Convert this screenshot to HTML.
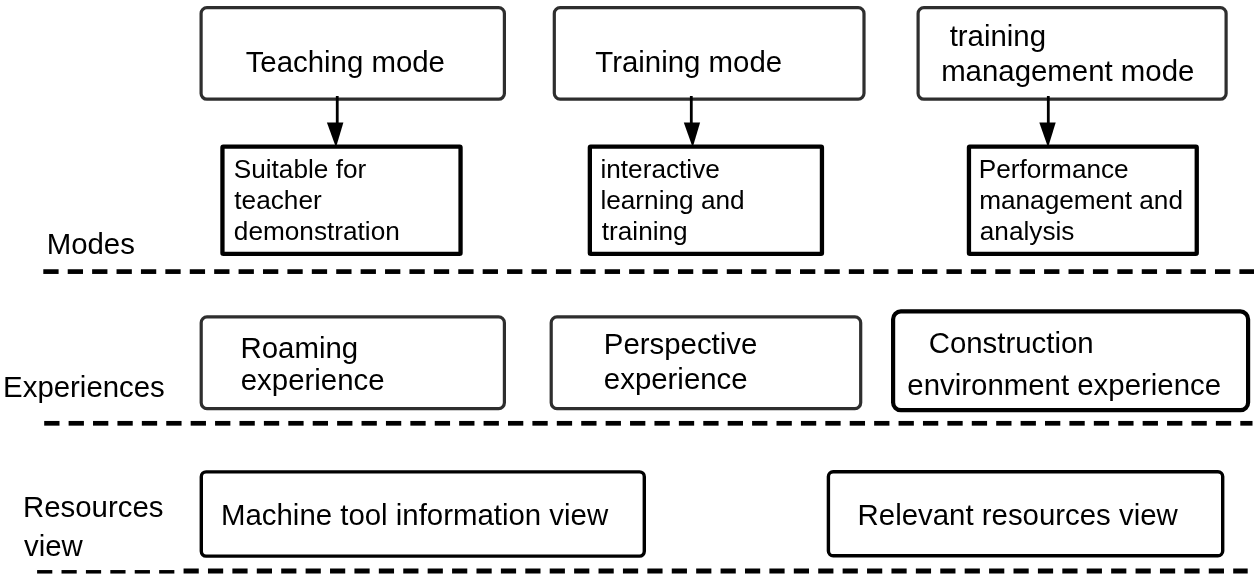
<!DOCTYPE html>
<html><head><meta charset="utf-8"><style>
html,body{margin:0;padding:0;background:#fff;}
svg{display:block;will-change:transform;}
text{font-family:"Liberation Sans",sans-serif;fill:#000;}
</style></head><body>
<svg width="1260" height="582" viewBox="0 0 1260 582">
<rect width="1260" height="582" fill="#fff"/>
<rect x="201.10" y="7.70" width="303.30" height="91.50" rx="5.8" ry="5.8" fill="none" stroke="#2e2e2e" stroke-width="3.2"/>
<rect x="554.30" y="7.70" width="309.70" height="91.40" rx="5.8" ry="5.8" fill="none" stroke="#2e2e2e" stroke-width="3.2"/>
<rect x="918.10" y="7.70" width="308.00" height="91.50" rx="5.8" ry="5.8" fill="none" stroke="#2e2e2e" stroke-width="3.2"/>
<rect x="201.20" y="316.90" width="303.20" height="91.70" rx="5.8" ry="5.8" fill="none" stroke="#2e2e2e" stroke-width="3.2"/>
<rect x="551.20" y="316.90" width="309.50" height="91.70" rx="5.8" ry="5.8" fill="none" stroke="#2e2e2e" stroke-width="3.2"/>
<rect x="893.10" y="311.40" width="355.00" height="98.80" rx="7.8" ry="7.8" fill="none" stroke="#000" stroke-width="4.2"/>
<rect x="201.30" y="471.90" width="443.00" height="84.20" rx="4.8" ry="4.8" fill="none" stroke="#000" stroke-width="3.4"/>
<rect x="828.40" y="471.70" width="394.30" height="84.10" rx="4.8" ry="4.8" fill="none" stroke="#000" stroke-width="3.4"/>
<rect x="222.45" y="146.65" width="238.10" height="107.30" rx="0.8" ry="0.8" fill="none" stroke="#000" stroke-width="4.3"/>
<rect x="589.85" y="146.65" width="232.10" height="107.30" rx="0.8" ry="0.8" fill="none" stroke="#000" stroke-width="4.3"/>
<rect x="968.95" y="146.65" width="227.80" height="107.30" rx="0.8" ry="0.8" fill="none" stroke="#000" stroke-width="4.3"/>
<line x1="337.25" y1="96" x2="337.25" y2="130" stroke="#000" stroke-width="2.8"/>
<polygon points="326.9,122.4 343.4,122.4 336.7,145 335.09999999999997,145" fill="#000"/>
<line x1="691.3" y1="96" x2="691.3" y2="130" stroke="#000" stroke-width="2.8"/>
<polygon points="683.8,122.4 700.1,122.4 693.4,145 691.8000000000001,145" fill="#000"/>
<line x1="1048.3" y1="96" x2="1048.3" y2="130" stroke="#000" stroke-width="2.8"/>
<polygon points="1039.3,122.4 1055.7,122.4 1048.8,145 1047.2,145" fill="#000"/>
<rect x="43.30" y="269.25" width="15.30" height="4.7" fill="#000"/>
<rect x="67.71" y="269.25" width="15.30" height="4.7" fill="#000"/>
<rect x="92.12" y="269.25" width="15.30" height="4.7" fill="#000"/>
<rect x="116.53" y="269.25" width="15.30" height="4.7" fill="#000"/>
<rect x="140.94" y="269.25" width="15.30" height="4.7" fill="#000"/>
<rect x="165.35" y="269.25" width="15.30" height="4.7" fill="#000"/>
<rect x="189.76" y="269.25" width="15.30" height="4.7" fill="#000"/>
<rect x="214.17" y="269.25" width="15.30" height="4.7" fill="#000"/>
<rect x="238.58" y="269.25" width="15.30" height="4.7" fill="#000"/>
<rect x="262.99" y="269.25" width="15.30" height="4.7" fill="#000"/>
<rect x="287.40" y="269.25" width="15.30" height="4.7" fill="#000"/>
<rect x="311.81" y="269.25" width="15.30" height="4.7" fill="#000"/>
<rect x="336.22" y="269.25" width="15.30" height="4.7" fill="#000"/>
<rect x="360.63" y="269.25" width="15.30" height="4.7" fill="#000"/>
<rect x="385.04" y="269.25" width="15.30" height="4.7" fill="#000"/>
<rect x="409.45" y="269.25" width="15.30" height="4.7" fill="#000"/>
<rect x="433.86" y="269.25" width="15.30" height="4.7" fill="#000"/>
<rect x="458.27" y="269.25" width="15.30" height="4.7" fill="#000"/>
<rect x="482.68" y="269.25" width="15.30" height="4.7" fill="#000"/>
<rect x="507.09" y="269.25" width="15.30" height="4.7" fill="#000"/>
<rect x="531.50" y="269.25" width="15.30" height="4.7" fill="#000"/>
<rect x="555.91" y="269.25" width="15.30" height="4.7" fill="#000"/>
<rect x="580.32" y="269.25" width="15.30" height="4.7" fill="#000"/>
<rect x="604.73" y="269.25" width="15.30" height="4.7" fill="#000"/>
<rect x="629.14" y="269.25" width="15.30" height="4.7" fill="#000"/>
<rect x="653.55" y="269.25" width="15.30" height="4.7" fill="#000"/>
<rect x="677.96" y="269.25" width="15.30" height="4.7" fill="#000"/>
<rect x="702.37" y="269.25" width="15.30" height="4.7" fill="#000"/>
<rect x="726.78" y="269.25" width="15.30" height="4.7" fill="#000"/>
<rect x="751.19" y="269.25" width="15.30" height="4.7" fill="#000"/>
<rect x="775.60" y="269.25" width="15.30" height="4.7" fill="#000"/>
<rect x="800.01" y="269.25" width="15.30" height="4.7" fill="#000"/>
<rect x="824.42" y="269.25" width="15.30" height="4.7" fill="#000"/>
<rect x="848.83" y="269.25" width="15.30" height="4.7" fill="#000"/>
<rect x="873.24" y="269.25" width="15.30" height="4.7" fill="#000"/>
<rect x="897.65" y="269.25" width="15.30" height="4.7" fill="#000"/>
<rect x="922.06" y="269.25" width="15.30" height="4.7" fill="#000"/>
<rect x="946.47" y="269.25" width="15.30" height="4.7" fill="#000"/>
<rect x="970.88" y="269.25" width="15.30" height="4.7" fill="#000"/>
<rect x="995.29" y="269.25" width="15.30" height="4.7" fill="#000"/>
<rect x="1019.70" y="269.25" width="15.30" height="4.7" fill="#000"/>
<rect x="1044.11" y="269.25" width="15.30" height="4.7" fill="#000"/>
<rect x="1068.52" y="269.25" width="15.30" height="4.7" fill="#000"/>
<rect x="1092.93" y="269.25" width="15.30" height="4.7" fill="#000"/>
<rect x="1117.34" y="269.25" width="15.30" height="4.7" fill="#000"/>
<rect x="1141.75" y="269.25" width="15.30" height="4.7" fill="#000"/>
<rect x="1166.16" y="269.25" width="15.30" height="4.7" fill="#000"/>
<rect x="1190.57" y="269.25" width="15.30" height="4.7" fill="#000"/>
<rect x="1214.98" y="269.25" width="15.30" height="4.7" fill="#000"/>
<rect x="1239.39" y="269.25" width="14.61" height="4.7" fill="#000"/>
<rect x="44.20" y="420.95" width="15.30" height="4.7" fill="#000"/>
<rect x="68.61" y="420.95" width="15.30" height="4.7" fill="#000"/>
<rect x="93.02" y="420.95" width="15.30" height="4.7" fill="#000"/>
<rect x="117.43" y="420.95" width="15.30" height="4.7" fill="#000"/>
<rect x="141.84" y="420.95" width="15.30" height="4.7" fill="#000"/>
<rect x="166.25" y="420.95" width="15.30" height="4.7" fill="#000"/>
<rect x="190.66" y="420.95" width="15.30" height="4.7" fill="#000"/>
<rect x="215.07" y="420.95" width="15.30" height="4.7" fill="#000"/>
<rect x="239.48" y="420.95" width="15.30" height="4.7" fill="#000"/>
<rect x="263.89" y="420.95" width="15.30" height="4.7" fill="#000"/>
<rect x="288.30" y="420.95" width="15.30" height="4.7" fill="#000"/>
<rect x="312.71" y="420.95" width="15.30" height="4.7" fill="#000"/>
<rect x="337.12" y="420.95" width="15.30" height="4.7" fill="#000"/>
<rect x="361.53" y="420.95" width="15.30" height="4.7" fill="#000"/>
<rect x="385.94" y="420.95" width="15.30" height="4.7" fill="#000"/>
<rect x="410.35" y="420.95" width="15.30" height="4.7" fill="#000"/>
<rect x="434.76" y="420.95" width="15.30" height="4.7" fill="#000"/>
<rect x="459.17" y="420.95" width="15.30" height="4.7" fill="#000"/>
<rect x="483.58" y="420.95" width="15.30" height="4.7" fill="#000"/>
<rect x="507.99" y="420.95" width="15.30" height="4.7" fill="#000"/>
<rect x="532.40" y="420.95" width="15.30" height="4.7" fill="#000"/>
<rect x="556.81" y="420.95" width="15.30" height="4.7" fill="#000"/>
<rect x="581.22" y="420.95" width="15.30" height="4.7" fill="#000"/>
<rect x="605.63" y="420.95" width="15.30" height="4.7" fill="#000"/>
<rect x="630.04" y="420.95" width="15.30" height="4.7" fill="#000"/>
<rect x="654.45" y="420.95" width="15.30" height="4.7" fill="#000"/>
<rect x="678.86" y="420.95" width="15.30" height="4.7" fill="#000"/>
<rect x="703.27" y="420.95" width="15.30" height="4.7" fill="#000"/>
<rect x="727.68" y="420.95" width="15.30" height="4.7" fill="#000"/>
<rect x="752.09" y="420.95" width="15.30" height="4.7" fill="#000"/>
<rect x="776.50" y="420.95" width="15.30" height="4.7" fill="#000"/>
<rect x="800.91" y="420.95" width="15.30" height="4.7" fill="#000"/>
<rect x="825.32" y="420.95" width="15.30" height="4.7" fill="#000"/>
<rect x="849.73" y="420.95" width="15.30" height="4.7" fill="#000"/>
<rect x="874.14" y="420.95" width="15.30" height="4.7" fill="#000"/>
<rect x="898.55" y="420.95" width="15.30" height="4.7" fill="#000"/>
<rect x="922.96" y="420.95" width="15.30" height="4.7" fill="#000"/>
<rect x="947.37" y="420.95" width="15.30" height="4.7" fill="#000"/>
<rect x="971.78" y="420.95" width="15.30" height="4.7" fill="#000"/>
<rect x="996.19" y="420.95" width="15.30" height="4.7" fill="#000"/>
<rect x="1020.60" y="420.95" width="15.30" height="4.7" fill="#000"/>
<rect x="1045.01" y="420.95" width="15.30" height="4.7" fill="#000"/>
<rect x="1069.42" y="420.95" width="15.30" height="4.7" fill="#000"/>
<rect x="1093.83" y="420.95" width="15.30" height="4.7" fill="#000"/>
<rect x="1118.24" y="420.95" width="15.30" height="4.7" fill="#000"/>
<rect x="1142.65" y="420.95" width="15.30" height="4.7" fill="#000"/>
<rect x="1167.06" y="420.95" width="15.30" height="4.7" fill="#000"/>
<rect x="1191.47" y="420.95" width="15.30" height="4.7" fill="#000"/>
<rect x="1215.88" y="420.95" width="15.30" height="4.7" fill="#000"/>
<rect x="1240.29" y="420.95" width="12.21" height="4.7" fill="#000"/>
<rect x="37.10" y="570.05" width="15.20" height="3.5" fill="#000"/>
<rect x="61.51" y="570.05" width="15.20" height="3.5" fill="#000"/>
<rect x="85.92" y="570.05" width="15.20" height="3.5" fill="#000"/>
<rect x="110.33" y="570.05" width="15.20" height="3.5" fill="#000"/>
<rect x="134.74" y="570.05" width="15.20" height="3.5" fill="#000"/>
<rect x="159.15" y="570.05" width="15.20" height="3.5" fill="#000"/>
<rect x="183.56" y="568.50" width="15.20" height="5.0" fill="#000"/>
<rect x="207.97" y="568.50" width="15.20" height="5.0" fill="#000"/>
<rect x="232.38" y="568.50" width="15.20" height="5.0" fill="#000"/>
<rect x="256.79" y="568.50" width="15.20" height="5.0" fill="#000"/>
<rect x="281.20" y="568.50" width="15.20" height="5.0" fill="#000"/>
<rect x="305.61" y="568.50" width="15.20" height="5.0" fill="#000"/>
<rect x="330.02" y="568.50" width="15.20" height="5.0" fill="#000"/>
<rect x="354.43" y="568.50" width="15.20" height="5.0" fill="#000"/>
<rect x="378.84" y="568.50" width="15.20" height="5.0" fill="#000"/>
<rect x="403.25" y="568.50" width="15.20" height="5.0" fill="#000"/>
<rect x="427.66" y="568.50" width="15.20" height="5.0" fill="#000"/>
<rect x="452.07" y="568.50" width="15.20" height="5.0" fill="#000"/>
<rect x="476.48" y="568.50" width="15.20" height="5.0" fill="#000"/>
<rect x="500.89" y="568.50" width="15.20" height="5.0" fill="#000"/>
<rect x="525.30" y="568.50" width="15.20" height="5.0" fill="#000"/>
<rect x="549.71" y="568.50" width="15.20" height="5.0" fill="#000"/>
<rect x="574.12" y="568.50" width="15.20" height="5.0" fill="#000"/>
<rect x="598.53" y="568.50" width="15.20" height="5.0" fill="#000"/>
<rect x="622.94" y="568.50" width="15.20" height="5.0" fill="#000"/>
<rect x="647.35" y="568.50" width="15.20" height="5.0" fill="#000"/>
<rect x="671.76" y="568.50" width="15.20" height="5.0" fill="#000"/>
<rect x="696.17" y="568.50" width="15.20" height="5.0" fill="#000"/>
<rect x="720.58" y="568.50" width="15.20" height="5.0" fill="#000"/>
<rect x="744.99" y="568.50" width="15.20" height="5.0" fill="#000"/>
<rect x="769.40" y="568.50" width="15.20" height="5.0" fill="#000"/>
<rect x="793.81" y="568.50" width="15.20" height="5.0" fill="#000"/>
<rect x="818.22" y="568.50" width="15.20" height="5.0" fill="#000"/>
<rect x="842.63" y="568.50" width="15.20" height="5.0" fill="#000"/>
<rect x="867.04" y="568.50" width="15.20" height="5.0" fill="#000"/>
<rect x="891.45" y="568.50" width="15.20" height="5.0" fill="#000"/>
<rect x="915.86" y="568.50" width="15.20" height="5.0" fill="#000"/>
<rect x="940.27" y="568.50" width="15.20" height="5.0" fill="#000"/>
<rect x="964.68" y="568.50" width="15.20" height="5.0" fill="#000"/>
<rect x="989.09" y="568.50" width="15.20" height="5.0" fill="#000"/>
<rect x="1013.50" y="568.50" width="15.20" height="5.0" fill="#000"/>
<rect x="1037.91" y="568.50" width="15.20" height="5.0" fill="#000"/>
<rect x="1062.32" y="568.50" width="15.20" height="5.0" fill="#000"/>
<rect x="1086.73" y="568.50" width="15.20" height="5.0" fill="#000"/>
<rect x="1111.14" y="568.50" width="15.20" height="5.0" fill="#000"/>
<rect x="1135.55" y="568.50" width="15.20" height="5.0" fill="#000"/>
<rect x="1159.96" y="568.50" width="15.20" height="5.0" fill="#000"/>
<rect x="1184.37" y="568.50" width="15.20" height="5.0" fill="#000"/>
<rect x="1208.78" y="568.50" width="15.20" height="5.0" fill="#000"/>
<rect x="1233.19" y="568.50" width="14.51" height="5.0" fill="#000"/>
<text x="245.64" y="72.00" font-size="29.4">Teaching mode</text>
<text x="595.34" y="72.00" font-size="29.4">Training mode</text>
<text x="949.65" y="46.00" font-size="29.4">training</text>
<text x="941.15" y="81.00" font-size="29.4">management mode</text>
<text x="233.76" y="178.00" font-size="26.2">Suitable for</text>
<text x="234.35" y="209.00" font-size="26.2">teacher</text>
<text x="233.85" y="240.00" font-size="26.2">demonstration</text>
<text x="600.45" y="178.00" font-size="26.2">interactive</text>
<text x="600.43" y="209.00" font-size="26.2">learning and</text>
<text x="601.80" y="240.00" font-size="26.2">training</text>
<text x="978.75" y="178.00" font-size="26.2">Performance</text>
<text x="979.16" y="209.00" font-size="26.2">management and</text>
<text x="979.79" y="240.00" font-size="26.2">analysis</text>
<text x="46.66" y="254.00" font-size="29.4">Modes</text>
<text x="240.49" y="358.00" font-size="29.4">Roaming</text>
<text x="240.75" y="390.00" font-size="29.4">experience</text>
<text x="603.79" y="354.00" font-size="29.4">Perspective</text>
<text x="603.85" y="389.00" font-size="29.4">experience</text>
<text x="928.71" y="353.00" font-size="29.4">Construction</text>
<text x="907.35" y="395.00" font-size="29.4">environment experience</text>
<text x="3.09" y="397.00" font-size="29.4">Experiences</text>
<text x="22.99" y="517.00" font-size="29.4">Resources</text>
<text x="24.00" y="556.00" font-size="29.4">view</text>
<text x="220.99" y="525.00" font-size="29.4">Machine tool information view</text>
<text x="857.59" y="525.00" font-size="29.4">Relevant resources view</text>
</svg>
</body></html>
